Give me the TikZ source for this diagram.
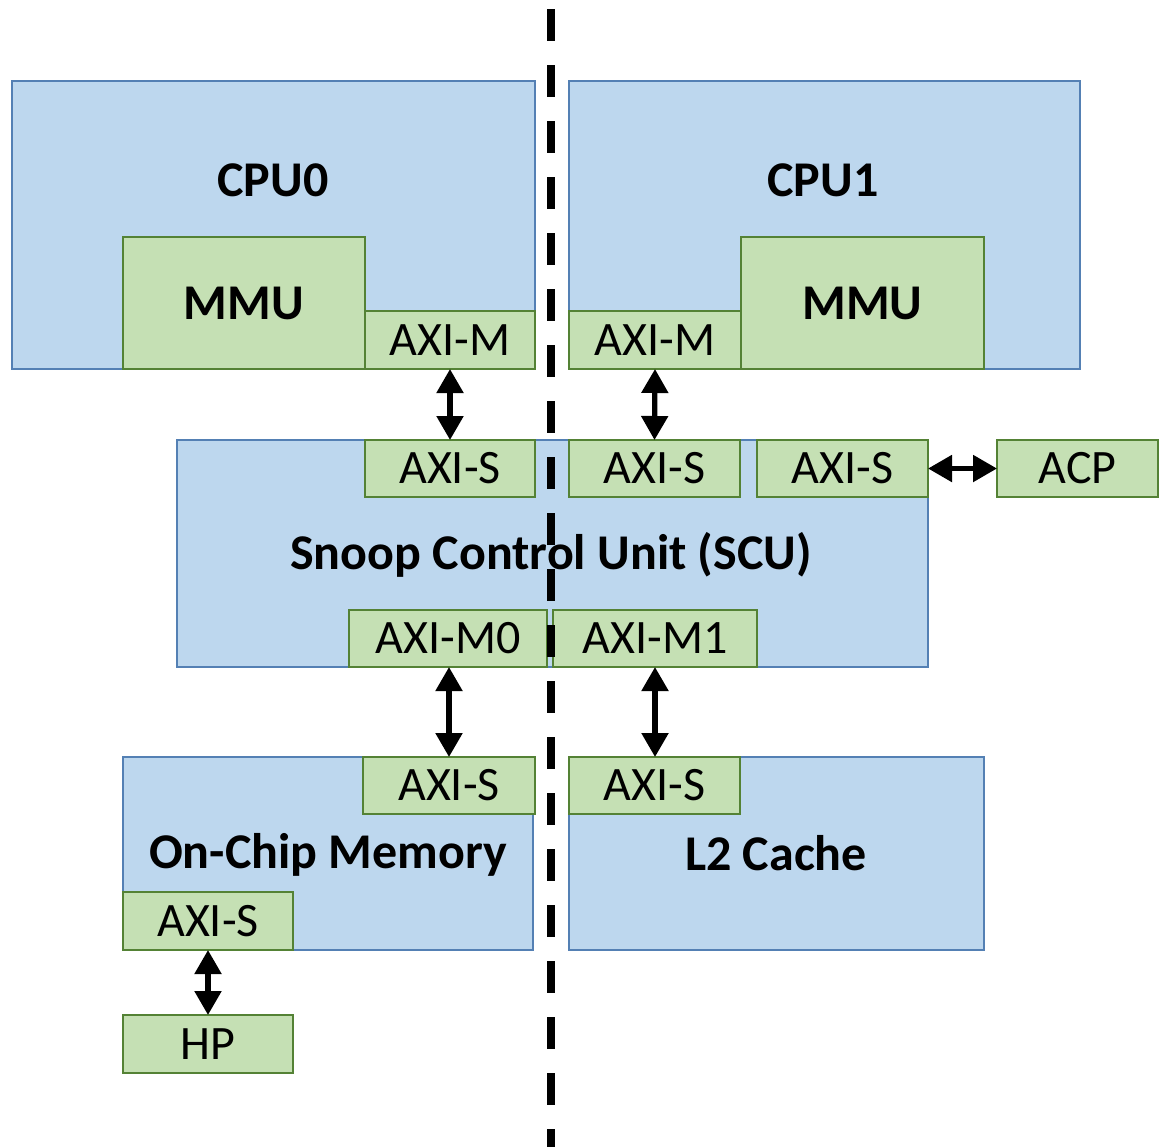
\documentclass[tikz,border=0pt]{standalone}
\usepackage{fontspec}
\setmainfont{Carlito}
\definecolor{bluefill}{RGB}{189, 215, 238}
\definecolor{blueline}{RGB}{84, 128, 180}
\definecolor{greenfill}{RGB}{197, 224, 180}
\definecolor{greenline}{RGB}{84, 130, 53}
\usetikzlibrary{arrows.meta, positioning}

\begin{document}
\begin{tikzpicture}[x=0.5pt, y=-0.5pt,
    unit/.style={draw=blueline, fill=bluefill, line width=1pt, inner sep=0pt, outer sep=0pt},
    port/.style={draw=greenline, fill=greenfill, line width=1pt, inner sep=0pt, outer sep=0pt, font=\fontsize{24}{28}\selectfont},
    title/.style={font=\fontsize{25}{30}\selectfont\bfseries},
    link/.style={{Triangle[width=13pt,length=12pt]}-{Triangle[width=13pt,length=12pt]}, line width=2.6pt}]
  \useasboundingbox (0,0) rectangle (1159,1147);

  % processors
  \node[unit, minimum width=261.5pt, minimum height=144pt] (cpu0) at (273.5,225) {};
  \node[unit, minimum width=255.5pt, minimum height=144pt] (cpu1) at (824.5,225) {};
  \node[title] (cpu0lbl) at (273,180) {CPU0};
  \node[title] (cpu1lbl) at (823,180) {CPU1};
  \node[port, minimum width=121pt, minimum height=66pt, title] (mmu0) at (244,303) {MMU};
  \node[port, minimum width=121.5pt, minimum height=66pt, title] (mmu1) at (862.5,303) {MMU};
  \node[port, minimum width=85pt, minimum height=29pt] (cpu0m) at (450,340) {AXI-M};
  \node[port, minimum width=86pt, minimum height=29pt] (cpu1m) at (655,340) {AXI-M};

  % snoop control unit
  \node[unit, minimum width=375.5pt, minimum height=113.5pt] (scu) at (552.5,553.5) {};
  \node[title] (sculbl) at (551,555) {Snoop Control Unit (SCU)};
  \node[port, minimum width=85pt, minimum height=28.5pt] (scus0) at (450,468.5) {AXI-S};
  \node[port, minimum width=85.5pt, minimum height=28.5pt] (scus1) at (654.5,468.5) {AXI-S};
  \node[port, minimum width=85.5pt, minimum height=28.5pt] (scus2) at (842.5,468.5) {AXI-S};
  \node[port, minimum width=80.5pt, minimum height=28.5pt] (acp) at (1077.5,468.5) {ACP};
  \node[port, minimum width=99pt, minimum height=28.5pt] (scum0) at (448,638.5) {AXI-M0};
  \node[port, minimum width=102pt, minimum height=28.5pt] (scum1) at (655,638.5) {AXI-M1};

  % memories
  \node[unit, minimum width=205pt, minimum height=96.5pt] (ocm) at (328,853.5) {};
  \node[unit, minimum width=207.5pt, minimum height=96.5pt] (l2) at (776.5,853.5) {};
  \node[title] (ocmlbl) at (328,855) {On-Chip Memory};
  \node[title] (l2lbl) at (776,853) {L2 Cache};
  \node[port, minimum width=86pt, minimum height=28.5pt] (ocms0) at (449,785.5) {AXI-S};
  \node[port, minimum width=85pt, minimum height=29pt] (ocms1) at (208,921) {AXI-S};
  \node[port, minimum width=85.5pt, minimum height=28.5pt] (l2s) at (654.5,785.5) {AXI-S};
  \node[port, minimum width=85pt, minimum height=29pt] (hp) at (208,1044) {HP};

  % connections
  \draw[link] (cpu0m.south) -- (scus0.north);
  \draw[link] (cpu1m.south) -- (scus1.north);
  \draw[link] (scus2.east) -- (acp.west);
  \draw[link] (ocms0.north |- scum0.south) -- (ocms0.north);
  \draw[link] (scum1.south) -- (scum1.south |- l2s.north);
  \draw[link] (ocms1.south) -- (hp.north);

  % divider
  \coordinate (divtop) at (550.5,9);
  \coordinate (divbot) at (550.5,1147);
  \draw[line width=4pt, dash pattern=on 16pt off 12pt] (divtop) -- (divbot);
\end{tikzpicture}
\end{document}
